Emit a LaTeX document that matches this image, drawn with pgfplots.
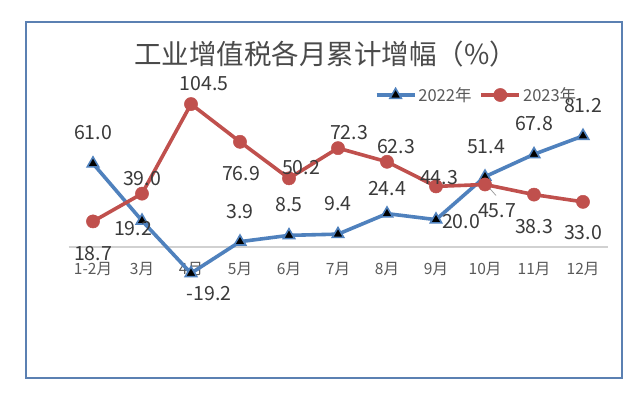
\documentclass[border=0pt]{standalone}
\usepackage{fontspec}
\setmainfont{Noto Sans CJK SC}
\usepackage{pgfplots}
\pgfplotsset{compat=1.18}
\usepackage{pgfplotstable}
\definecolor{sblue}{HTML}{4F81BD}
\definecolor{sred}{HTML}{C0504D}
\definecolor{txt}{HTML}{595959}
\definecolor{ttl}{HTML}{4A4A4A}
\definecolor{lbl}{HTML}{3A3A3A}
\definecolor{frm}{HTML}{5B80B2}

\pgfplotstableread{
x y lab dx dy
0 61.0 61.0 0 31
1 19.2 19.2 -9 -8
2 -19.2 -19.2 18 -20
3 3.9 3.9 0 30
4 8.5 8.5 0 31
5 9.4 9.4 0 31
6 24.4 24.4 0 25
7 20.0 20.0 25 -2
8 51.4 51.4 1 30
9 67.8 67.8 0 31
10 81.2 81.2 0 30
}\tA

\pgfplotstableread{
x y lab dx dy
0 18.7 18.7 0 -32
1 39.0 39.0 0 15
2 104.5 104.5 13 21
3 76.9 76.9 1 -32
4 50.2 50.2 12 11
5 72.3 72.3 11 16
6 62.3 62.3 9 15
7 44.3 44.3 3 9
8 45.7 45.7 12 -26
9 38.3 38.3 0 -32
10 33.0 33.0 0 -31
}\tB

\begin{document}
\begin{tikzpicture}
\useasboundingbox (-68.5bp,-97.3bp) rectangle (564.5bp,301.7bp);
\fill[white] (-68.5bp,-97.3bp) rectangle (564.5bp,301.7bp);
\begin{axis}[
  scale only axis,
  width=539bp, height=232.5bp,
  xmin=-0.5, xmax=10.5,
  ymin=-40, ymax=130,
  clip=false,
  axis x line=middle,
  axis y line=none,
  hide obscured x ticks=false,
  x axis line style={-, draw=black!18, line width=1.6bp},
  xtick={0,...,10},
  xticklabels={1-2月,3月,4月,5月,6月,7月,8月,9月,10月,11月,12月},
  major tick length=0pt,
  xticklabel style={anchor=center, yshift=-22bp, font=\fontsize{15.5bp}{18bp}\selectfont, text=txt},
  legend columns=2,
  legend style={draw=none, fill=none, at={(0.757,0.889)}, anchor=center,
    font=\fontsize{16.5bp}{19bp}\selectfont, text=txt,
    /tikz/every even column/.append style={column sep=6bp},
    inner sep=0pt},
  legend image code/.code={\draw[#1, mark repeat=2, mark phase=2] plot coordinates {(0bp,0bp) (19bp,0bp) (38bp,0bp)};},
]
\addplot[sblue, line width=3.6bp, mark=triangle*, mark size=6.6bp,
  mark options={fill=black, draw=sblue, line width=1.6bp},
  nodes near coords={\pgfplotspointmeta},
  point meta=explicit symbolic,
  visualization depends on={\thisrow{dx}\as\dx},
  visualization depends on={\thisrow{dy}\as\dy},
  every node near coord/.append style={anchor=center, font=\fontsize{19.5bp}{22bp}\selectfont, text=lbl, xshift=\dx*1bp, yshift=\dy*1bp}]
  table[x=x, y=y, meta=lab]{\tA};
\addlegendentry{2022年}
\addplot[sred, line width=3.6bp, mark=*, mark size=6.6bp,
  mark options={fill=sred, draw=sred, line width=0.5bp},
  nodes near coords={\pgfplotspointmeta},
  point meta=explicit symbolic,
  visualization depends on={\thisrow{dx}\as\dx},
  visualization depends on={\thisrow{dy}\as\dy},
  every node near coord/.append style={anchor=center, font=\fontsize{19.5bp}{22bp}\selectfont, text=lbl, xshift=\dx*1bp, yshift=\dy*1bp}]
  table[x=x, y=y, meta=lab]{\tB};
\addlegendentry{2023年}
\draw[black!40, line width=0.7bp] (axis cs:8,45.7) ++(3bp,-2bp) -- ++(8bp,-9bp);
\end{axis}
\node[text=ttl, font=\fontsize{27.5bp}{32bp}\selectfont] at (257bp,248bp) {工业增值税各月累计增幅（\%）};
\draw[frm, line width=2.4bp] (-42.5bp,-76.3bp) rectangle (553.5bp,279.7bp);
\end{tikzpicture}
\end{document}
